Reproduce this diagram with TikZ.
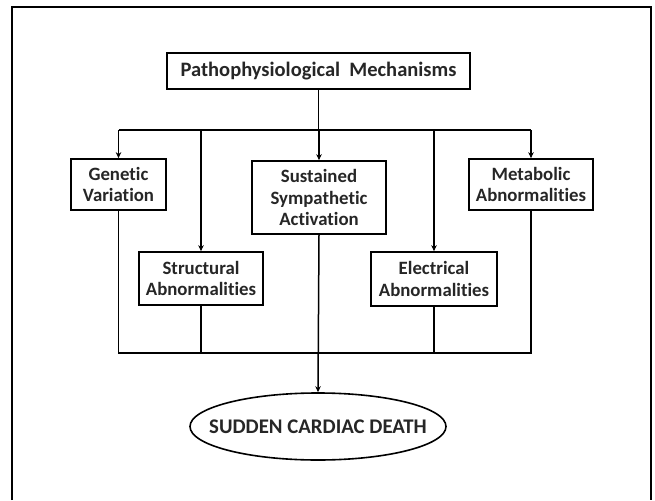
\documentclass[tikz,border=0pt]{standalone}
\usepackage{fontspec}
\setmainfont[Ligatures=NoCommon]{Carlito}
\usetikzlibrary{shapes.geometric,arrows.meta}
\begin{document}
\begin{tikzpicture}[x=1pt,y=1pt,
  every node/.style={font=\fontsize{18.8}{21.5}\selectfont\bfseries, text=black!85},
  box/.style={draw, line width=1.7pt, align=center, inner sep=0pt},
  conn/.style={line width=1.5pt},
  arr/.style={conn, -{Stealth[length=6pt,width=5.5pt]}}]
\useasboundingbox (0,0) rectangle (655,-500);
\fill[white] (0,0) rectangle (655,-500);
\draw[line width=1.2pt] (12,-500) -- (12,-7) -- (651,-7) -- (651,-500);

\node[box, minimum width=303pt, minimum height=36pt, font=\fontsize{20.5}{22}\selectfont\bfseries] (top) at (318.5,-71) {Pathophysiological\ \ Mechanisms};
\node[box, minimum width=95pt, minimum height=51pt] (gen) at (118.5,-184.5) {Genetic\\Variation};
\node[box, minimum width=134pt, minimum height=73pt] (sus) at (319,-197.5) {Sustained\\Sympathetic\\Activation};
\node[box, minimum width=124pt, minimum height=51pt] (met) at (531,-184.5) {Metabolic\\Abnormalities};
\node[box, minimum width=124pt, minimum height=53pt] (str) at (201,-278.5) {Structural\\Abnormalities};
\node[box, minimum width=126pt, minimum height=54pt] (ele) at (434,-279) {Electrical\\Abnormalities};
\node[draw, ellipse, line width=1.6pt, minimum width=256pt, minimum height=67pt,
      inner xsep=-20pt, inner ysep=0pt,
      font=\fontsize{20.8}{22}\selectfont\bfseries] (death) at (318,-426.5) {SUDDEN CARDIAC DEATH};

\coordinate (b1) at (318,-130);
\coordinate (b2) at (318,-353);

% top distribution bus
\draw[conn] (top.south) -- (top.south |- b1);
\draw[conn] (gen.north |- b1) -- (met.north |- b1);
\draw[arr] (gen.north |- b1) -- (gen.north);
\draw[arr] (str.north |- b1) -- (str.north);
\draw[arr] (sus.north |- b1) -- (sus.north);
\draw[arr] (ele.north |- b1) -- (ele.north);
\draw[arr] (met.north |- b1) -- (met.north);

% bottom collection bus
\draw[conn] (gen.south) |- (met.south |- b2) -- (met.south);
\draw[conn] (str.south) -- (str.south |- b2);
\draw[conn] (ele.south) -- (ele.south |- b2);
\draw[arr] (sus.south) -- (death.north);
\end{tikzpicture}
\end{document}
